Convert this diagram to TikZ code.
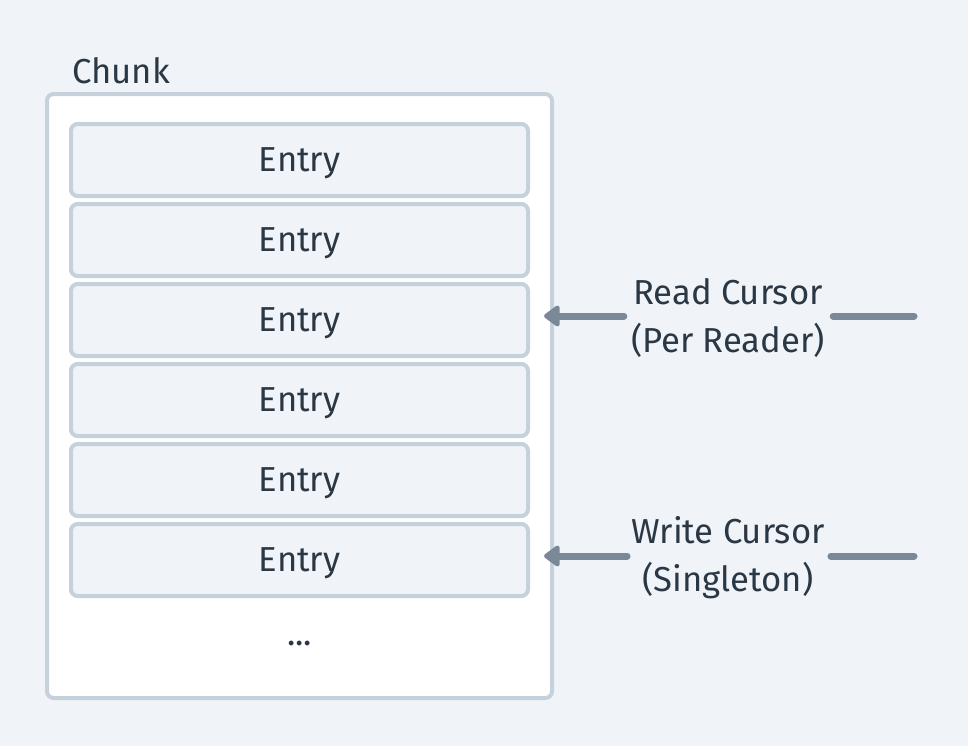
\documentclass[tikz,border=0pt]{standalone}
\usepackage{fontspec}
\setmainfont{Fira Sans}
\usetikzlibrary{arrows.meta,positioning}
\definecolor{bgc}{HTML}{F0F4F8}
\definecolor{bordc}{HTML}{C5D1DB}
\definecolor{txtc}{HTML}{2A3744}
\definecolor{arrc}{HTML}{7A8898}
\begin{document}
\begin{tikzpicture}[x=0.75pt,y=-0.75pt,
  entrybox/.style={draw=bordc,line width=3pt,fill=bgc,rounded corners=5pt,minimum width=342.75pt,minimum height=54pt,inner sep=0pt,text depth=0pt,text=txtc,font=\fontsize{26}{30}\selectfont},
  chunkbox/.style={draw=bordc,line width=3pt,fill=white,rounded corners=5pt,minimum width=378.75pt,minimum height=453pt,inner sep=0pt},
  lbl/.style={text=txtc,font=\fontsize{26}{36}\selectfont,align=center,inner sep=0pt},
  ptr/.style={draw=arrc,line width=5.25pt,line cap=round},
]
\fill[bgc] (0,0) rectangle (968,746);
\useasboundingbox (0,0) rectangle (968,746);
\node[chunkbox] (chunk) at (299.5,396) {};
\node[lbl,anchor=base west] (chunklbl) at (72,83) {Chunk};
\foreach \i/\y in {1/160,2/240,3/320,4/400,5/480,6/560}{
  \node[entrybox] (e\i) at (299.5,\y) {Entry};
}
\node[text=txtc,font=\fontsize{26}{30}\selectfont] (dots) at (299.5,644) {...};
\node[lbl] (rc) at (728,318) {Read Cursor\\(Per Reader)};
\node[lbl] (wc) at (728,558) {Write Cursor\\(Singleton)};
\coordinate (rend) at (914,316);
\coordinate (wend) at (914,556);
\draw[ptr,-{Triangle[length=13pt,width=18pt,round]}] (rc.west |- rend) ++(-5.25pt,0) -- ([xshift=10.5pt]rend -| e3.east);
\draw[ptr,-{Triangle[length=13pt,width=18pt,round]}] (wc.west |- wend) ++(-3pt,0) -- ([xshift=10.5pt]wend -| e6.east);
\draw[ptr] (rc.east |- rend) ++(6pt,0) -- (rend);
\draw[ptr] (wc.east |- wend) ++(4.5pt,0) -- (wend);
\end{tikzpicture}
\end{document}
